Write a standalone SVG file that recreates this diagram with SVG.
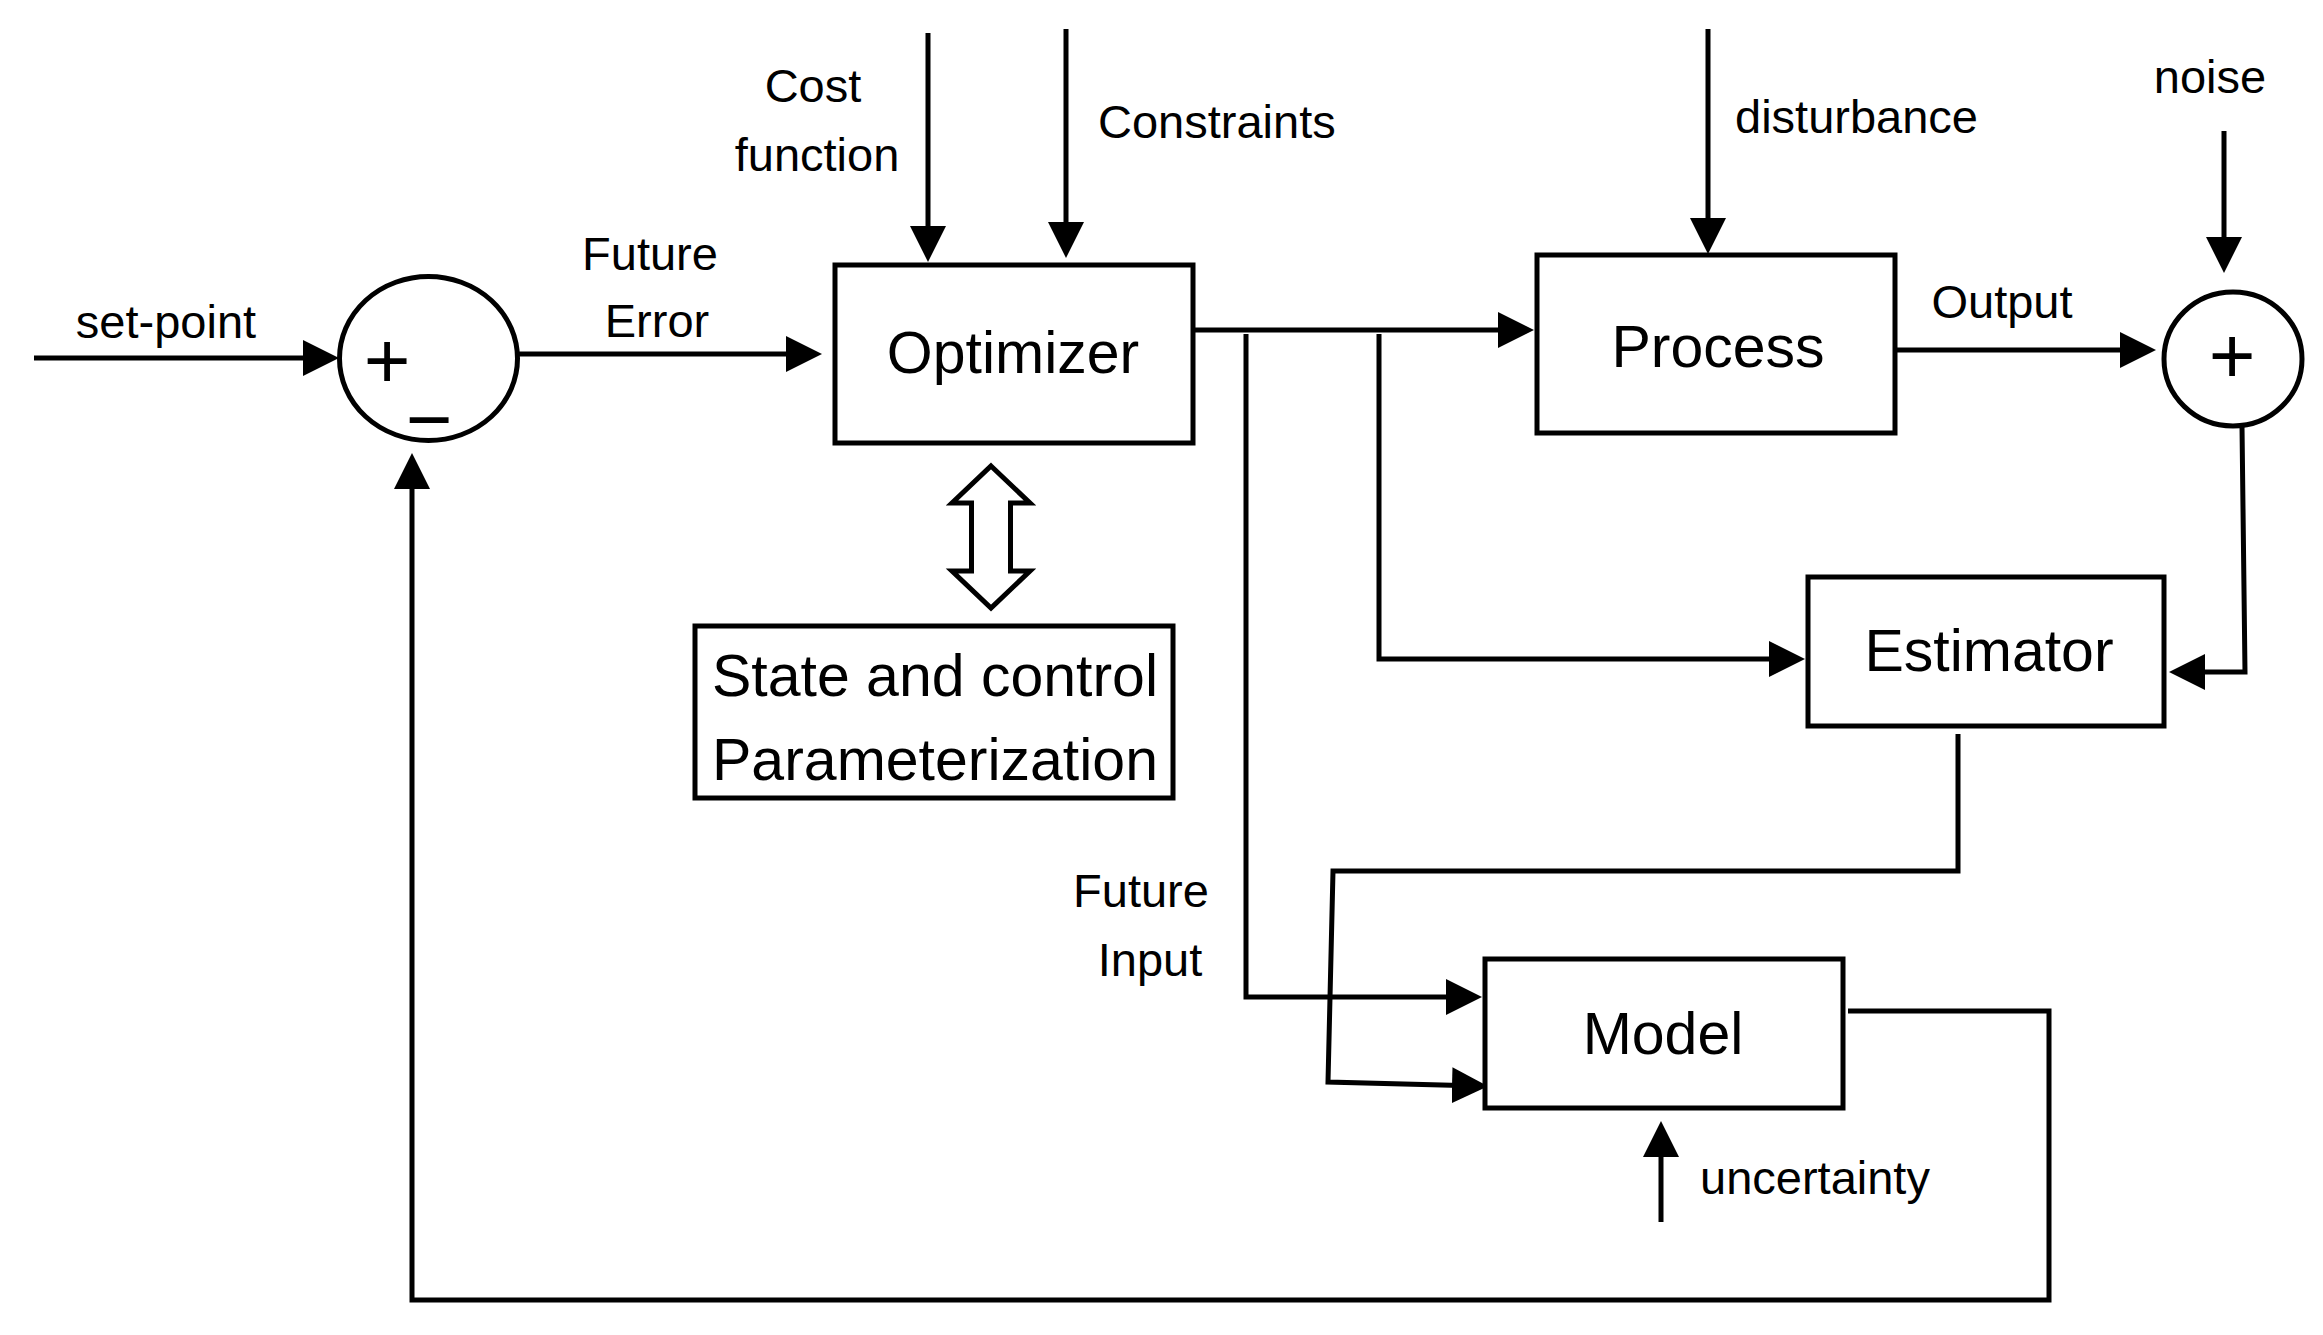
<svg xmlns="http://www.w3.org/2000/svg" width="2323" height="1335" viewBox="0 0 2323 1335">
<style>
.box{fill:#fff;stroke:#000;stroke-width:5}
.conn{fill:none;stroke:#000;stroke-width:5;stroke-linejoin:miter}
.lbl{font-family:"Liberation Sans",Arial,sans-serif;font-size:47px;fill:#000}
.big{font-family:"Liberation Sans",Arial,sans-serif;font-size:59px;fill:#000;text-anchor:middle}
.sym{font-family:"Liberation Sans",Arial,sans-serif;font-size:80px;fill:#000;text-anchor:middle}
.mid{text-anchor:middle}
</style>
<defs>
<marker id="ah" markerUnits="userSpaceOnUse" markerWidth="36" markerHeight="36" refX="28" refY="18" orient="auto">
<path d="M0,0 L36,18 L0,36 z" fill="#000"/>
</marker>
</defs>
<rect width="2323" height="1335" fill="#fff"/>

<g id="connectors">
<path class="conn" marker-end="url(#ah)" d="M34,358 H331"/>
<path class="conn" marker-end="url(#ah)" d="M518,354 H814"/>
<path class="conn" marker-end="url(#ah)" d="M928,33 V254"/>
<path class="conn" marker-end="url(#ah)" d="M1066,29 V250"/>
<path class="conn" marker-end="url(#ah)" d="M1193,330 H1526"/>
<path class="conn" marker-end="url(#ah)" d="M1708,29 V246"/>
<path class="conn" marker-end="url(#ah)" d="M1895,350 H2148"/>
<path class="conn" marker-end="url(#ah)" d="M2224,131 V265"/>
<path class="conn" marker-end="url(#ah)" d="M2242,426 L2245,672 H2177"/>
<path class="conn" marker-end="url(#ah)" d="M1379,334 V659 H1797"/>
<path class="conn" marker-end="url(#ah)" d="M1246,334 V997 H1474"/>
<path class="conn" marker-end="url(#ah)" d="M1958,734 V871 H1333 L1328,1082 L1480,1086"/>
<path class="conn" marker-end="url(#ah)" d="M1848,1011 H2049 V1300 H412 V461"/>
<path class="conn" marker-end="url(#ah)" d="M1661,1222 V1129"/>
<polygon class="box" stroke-width="4.5" points="991,466 1030,503 1010.5,503 1010.5,571 1030,571 991,608 952,571 971.5,571 971.5,503 952,503"/>
</g>

<g id="labels">
<text class="lbl mid" x="166" y="338">set-point</text>
<text class="lbl mid" x="650" y="270">Future</text>
<text class="lbl mid" x="657" y="337">Error</text>
<text class="lbl mid" x="813" y="102">Cost</text>
<text class="lbl mid" x="817" y="171">function</text>
<text class="lbl" x="1098" y="138">Constraints</text>
<text class="lbl" x="1735" y="133">disturbance</text>
<text class="lbl mid" x="2210" y="93">noise</text>
<text class="lbl mid" x="2002" y="318" font-size="55">Output</text>
<text class="lbl mid" x="1141" y="907">Future</text>
<text class="lbl mid" x="1150" y="976">Input</text>
<text class="lbl" x="1700" y="1194">uncertainty</text>
</g>

<g id="sum1">
<ellipse class="box" cx="428.5" cy="358.5" rx="89" ry="82"/>
<text class="sym" x="387" y="388">+</text>
<text class="sym" x="429" y="447" font-size="75">−</text>
</g>

<g id="optimizer">
<rect class="box" x="835" y="265" width="358" height="178"/>
<text class="big" x="1013" y="373">Optimizer</text>
</g>

<g id="process">
<rect class="box" x="1537" y="255" width="358" height="178"/>
<text class="big" x="1718" y="367">Process</text>
</g>

<g id="sum2">
<ellipse class="box" cx="2233" cy="359" rx="69" ry="67"/>
<text class="sym" x="2232" y="383">+</text>
</g>

<g id="estimator">
<rect class="box" x="1808" y="577" width="356" height="149"/>
<text class="big" x="1989" y="671">Estimator</text>
</g>

<g id="model">
<rect class="box" x="1485" y="959" width="358" height="149"/>
<text class="big" x="1663" y="1054">Model</text>
</g>

<g id="parameterization">
<rect class="box" x="695" y="626" width="478" height="172"/>
<text class="big" x="935" y="696" font-size="60">State and control</text>
<text class="big" x="935" y="780" font-size="60">Parameterization</text>
</g>
</svg>
